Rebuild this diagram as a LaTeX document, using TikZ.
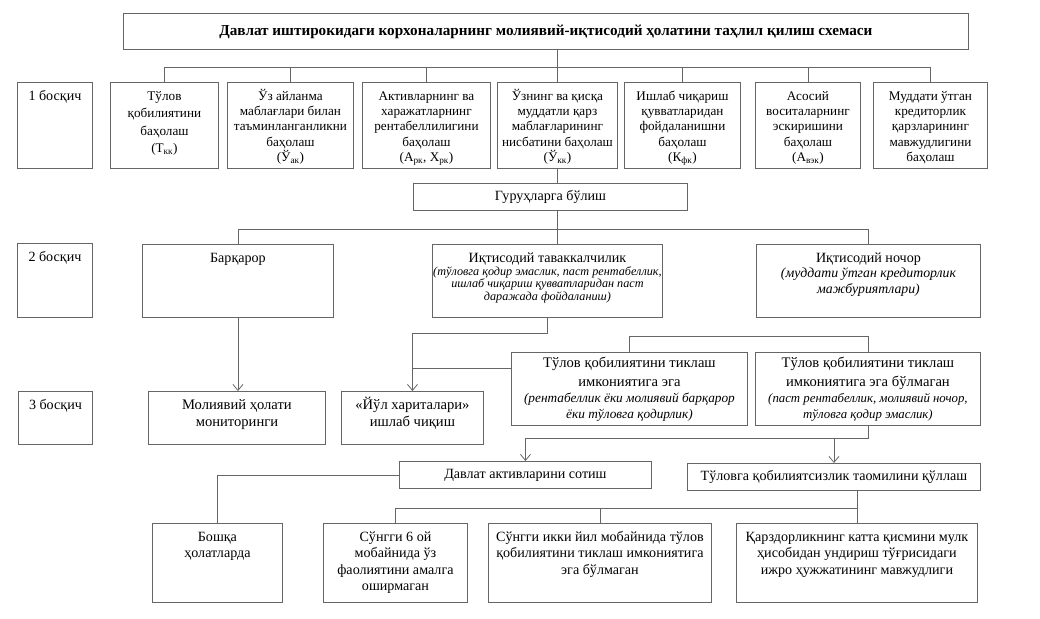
\documentclass[tikz,border=0pt]{standalone}
\usepackage{fontspec}
\setmainfont{Liberation Serif}
\usepackage{tikz}
\usetikzlibrary{arrows.meta, positioning, calc}

% text inside the frames
\newcommand{\topcell}[4][18pt]{\parbox[c][#3][t]{#2}{\centering\rule{0pt}{#1}#4}}
\newcommand{\midcell}[3]{\parbox[c][#2][c]{#1}{\centering #3}}
\newcommand{\remark}[3]{\par{\fontsize{#1}{#2}\selectfont\itshape\lineskiplimit=-20pt #3\par}}

\begin{document}
\begin{tikzpicture}[x=1pt, y=-1pt,
    blk/.style={draw=black!60, line width=0.9pt, anchor=north west, inner sep=0pt,
                font=\fontsize{14.1}{16.5}\selectfont},
    row1/.style={blk, font=\fontsize{13.2}{15.2}\selectfont},
    row1s/.style={blk, font=\fontsize{13.2}{17.3}\selectfont},
    row3/.style={blk, font=\fontsize{14.6}{17}\selectfont},
    line/.style={draw=black!60, line width=0.9pt},
    arr/.style={line, -{Straight Barb[length=6pt, width=10pt, line width=0.8pt]}}
]
    \useasboundingbox (0,0) rectangle (1040,618);

    % title
    \node [blk] (title) at (123,13) {\midcell{845pt}{36pt}{\fontsize{15.2}{17}\selectfont\bfseries Давлат иштирокидаги корхоналарнинг молиявий-иқтисодий ҳолатини таҳлил қилиш схемаси}};

    % 1 stage
    \node [blk] (st1) at (17,82) {\topcell{75pt}{86pt}{1 босқич}};
    \node [row1s] (b1) at (110,82) {\topcell{108pt}{86pt}{Тўлов\\қобилиятини\\баҳолаш\\(Т\textsubscript{кк})}};
    \node [row1] (b2) at (227,82) {\topcell{126pt}{86pt}{Ўз айланма\\маблағлари билан\\таъминланганликни\\баҳолаш\\(Ў\textsubscript{ак})}};
    \node [row1] (b3) at (362,82) {\topcell{128pt}{86pt}{Активларнинг ва\\харажатларнинг\\рентабеллилигини\\баҳолаш\\(А\textsubscript{рк}, Х\textsubscript{рк})}};
    \node [row1] (b4) at (497,82) {\topcell{120pt}{86pt}{Ўзнинг ва қисқа\\муддатли қарз\\маблағларининг\\нисбатини баҳолаш\\(Ў\textsubscript{кк})}};
    \node [row1] (b5) at (624,82) {\topcell{116pt}{86pt}{Ишлаб чиқариш\\қувватларидан\\фойдаланишни\\баҳолаш\\(К\textsubscript{фк})}};
    \node [row1] (b6) at (755,82) {\topcell{105pt}{86pt}{Асосий\\воситаларнинг\\эскиришини\\баҳолаш\\(А\textsubscript{вэк})}};
    \node [row1] (b7) at (873,82) {\topcell{114pt}{86pt}{Муддати ўтган\\кредиторлик\\қарзларининг\\мавжудлигини\\баҳолаш}};

    \node [blk] (grp) at (413,183) {\midcell{274pt}{27pt}{Гуруҳларга бўлиш}};

    % 2 stage
    \node [blk] (st2) at (17,243) {\topcell{75pt}{74pt}{2 босқич}};
    \node [blk] (stab) at (142,244) {\topcell{191pt}{73pt}{Барқарор}};
    \node [blk] (risk) at (432,244) {\topcell{230pt}{73pt}{Иқтисодий таваккалчилик\remark{12.2}{12.6}{(тўловга қодир эмаслик, паст рентабеллик,\\ишлаб чиқариш қувватларидан паст\\даражада фойдаланиш)}}};
    \node [blk] (weak) at (756,244) {\topcell{224pt}{73pt}{Иқтисодий ночор\remark{13.8}{15.5}{(муддати ўтган кредиторлик\\мажбуриятлари)}}};

    % 3 stage
    \node [row3, font=\fontsize{14.6}{19.5}\selectfont] (ableA) at (511,352) {\topcell[15pt]{236pt}{73pt}{Тўлов қобилиятини тиклаш\\имкониятига эга\remark{13.3}{16}{(рентабеллик ёки молиявий барқарор\\ёки тўловга қодирлик)}}};
    \node [row3, font=\fontsize{14.6}{19.5}\selectfont] (ableB) at (755,352) {\topcell[15pt]{225pt}{73pt}{Тўлов қобилиятини тиклаш\\имкониятига эга бўлмаган\remark{12.8}{16}{(паст рентабеллик, молиявий ночор,\\тўловга қодир эмаслик)}}};
    \node [blk] (st3) at (18,391) {\topcell{74pt}{53pt}{3 босқич}};
    \node [row3] (monit) at (148,391) {\topcell{177pt}{53pt}{Молиявий ҳолати\\мониторинги}};
    \node [row3] (road) at (341,391) {\topcell{142pt}{53pt}{«Йўл хариталари»\\ишлаб чиқиш}};

    \node [blk] (sale) at (399,461) {\midcell{252pt}{27pt}{Давлат активларини сотиш}};
    \node [blk] (proc) at (687,463) {\midcell{293pt}{27pt}{Тўловга қобилиятсизлик таомилини қўллаш}};

    \node [blk] (other) at (152,523) {\topcell{130pt}{79pt}{Бошқа\\ҳолатларда}};
    \node [blk] (six) at (323,523) {\topcell{144pt}{79pt}{Сўнгги 6 ой\\мобайнида ўз\\фаолиятини амалга\\оширмаган}};
    \node [blk] (two) at (488,523) {\topcell{223pt}{79pt}{Сўнгги икки йил мобайнида тўлов\\қобилиятини тиклаш имкониятига\\эга бўлмаган}};
    \node [blk] (debt) at (736,523) {\topcell{241pt}{79pt}{Қарздорликнинг катта қисмини мулк\\ҳисобидан ундириш тўғрисидаги\\ижро ҳужжатининг мавжудлиги}};

    % connectors
    \coordinate (bus1) at (0,67);
    \coordinate (bus2) at (0,229);
    \coordinate (bus3) at (0,336);
    \coordinate (bus4) at (0,438);
    \coordinate (bus5) at (0,508);
    \coordinate (join) at ([yshift=-16pt]ableA.north west);

    \draw [line] (title.south -| b4.north) -- (b4.north);
    \draw [line] (b1.north) |- (bus1 -| b7.north) -- (b7.north);
    \foreach \n in {b2,b3,b5,b6}
        \draw [line] (\n.north) -- (\n.north |- bus1);
    \draw [line] (b4.south) -- (b4.south |- grp.north);

    \draw [line] (b4.south |- grp.south) -- (b4.south |- risk.north);
    \draw [line] (stab.north) |- (bus2 -| weak.north) -- (weak.north);

    \draw [arr] (stab.south) -- (stab.south |- monit.north);
    \draw [arr] (risk.south) -- ++(0,16) -| (road.north);
    \draw [line] (join) -- (join -| road.north);
    \draw [line] (ableA.north) |- (bus3 -| ableB.north) -- (ableB.north);

    \draw [arr] (ableB.south) |- (bus4 -| sale.north) -- (sale.north);
    \draw [arr] (bus4 -| proc.north) -- (proc.north);

    \draw [line] (sale.west) -| (other.north);
    \draw [line] (debt.north) -- (debt.north |- proc.south);
    \draw [line] (six.north) |- (bus5 -| debt.north);
    \draw [line] (two.north) -- (two.north |- bus5);
\end{tikzpicture}
\end{document}
